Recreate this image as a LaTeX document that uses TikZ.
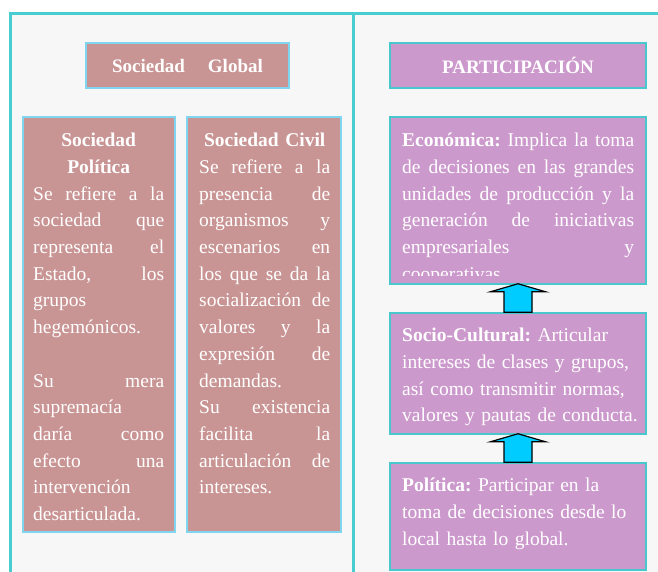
\documentclass[tikz,border=0pt]{standalone}
\usepackage{fontspec}
\setmainfont{Liberation Serif}
\usetikzlibrary{calc, positioning}
\definecolor{marco}{RGB}{72,206,208}
\definecolor{fondo}{RGB}{247,247,247}
\definecolor{rosa}{RGB}{201,149,148}
\definecolor{lila}{RGB}{204,153,204}
\definecolor{bordeRosa}{RGB}{128,214,240}
\definecolor{bordeLila}{RGB}{72,200,204}
\definecolor{cielo}{RGB}{0,204,255}
\tikzset{
    rosabox/.style={draw=bordeRosa, fill=rosa, line width=1.5pt},
    lilabox/.style={draw=bordeLila, fill=lila, line width=1.5pt},
    head/.style={text=white, font=\fontsize{19}{23}\selectfont\bfseries},
    txt/.style={text=white, inner sep=0, anchor=base west,
        font=\fontsize{19.5}{26.7}\selectfont\frenchspacing},
    flecha/.style={draw=black, fill=cielo, line width=1.2pt, line join=miter}
}
% justified, centred and natural lines
\newcommand{\jl}[1]{\leavevmode\hbox to \hsize{\spaceskip=0.25em plus 1fil\relax #1}\par}
\newcommand{\cl}[1]{\leavevmode\hbox to \hsize{\hfil\bfseries #1\hfil}\par}
\newcommand{\nl}[1]{\leavevmode\hbox to \hsize{#1\hfil}\par}
\newcommand{\drawB}[6]{
    \node[#1, minimum width=#5, minimum height=#6] (#2) at (#3,#4) {};
}
\newcommand{\drawF}[2]{
    \draw[flecha] ($(#1.north)+(-14,0)$) -- ($(#2.south)+(-14,7)$)
        -- ($(#2.south)+(-27.5,7)$) -- ($(#2.south)+(0,-1)$)
        -- ($(#2.south)+(27.5,7)$) -- ($(#2.south)+(14,7)$)
        -- ($(#1.north)+(14,0)$) -- cycle;
}

\begin{document}
\begin{tikzpicture}[x=1pt, y=-1pt]
    \useasboundingbox (0,0) rectangle (658,571);
    \clip (0,0) rectangle (658,571);
    % Panels
    \fill[fondo] (10.5,13.5) rectangle (670,600);
    \draw[marco, line width=2.5pt] (10.5,600) |- (670,13.5);
    \draw[marco, line width=3pt] (353.5,13.5) -- (353.5,600);
    % Headers
    \node[rosabox, head, minimum width=203, minimum height=45] (global) at (187.5,65.5) {Sociedad\hspace{23pt}Global};
    \node[lilabox, head, minimum width=256, minimum height=45] (part) at (518,65.5) {PARTICIPACIÓN};
    % Boxes
    \drawB{rosabox}{politica}{99}{324.5}{152}{415}
    \drawB{rosabox}{civil}{264}{324.5}{154}{415}
    \drawB{lilabox}{eco}{518}{200.5}{256}{167}
    \drawB{lilabox}{soc}{518}{373.5}{256}{121}
    \drawB{lilabox}{pol}{518}{516.5}{256}{107}
    % Texts
    \node[txt, text width=131pt] (tpolitica) at (33,146.7) {%
        \cl{Sociedad}\cl{Política}%
        \jl{Se refiere a la}\jl{sociedad que}\jl{representa el}\jl{Estado, los}%
        \nl{grupos}\nl{hegemónicos.}\nl{~}%
        \jl{Su mera}\nl{supremacía}\jl{daría como}\jl{efecto una}%
        \nl{intervención}\nl{desarticulada.}};
    \node[txt, text width=131pt] (tcivil) at (199,146.7) {%
        \cl{Sociedad Civil}%
        \jl{Se refiere a la}\jl{presencia de}\jl{organismos y}\jl{escenarios en}%
        \jl{los que se da la}\jl{socialización de}\jl{valores y la}\jl{expresión de}%
        \nl{demandas.}%
        \jl{Su existencia}\jl{facilita la}\jl{articulación de}\nl{intereses.}};
    \begin{scope}
        \clip (eco.north west) rectangle ($(eco.south east)+(0,-9)$);
        \node[txt, text width=232pt] (teco) at (402,146.7) {%
            \jl{\textbf{Económica:} Implica la toma}\jl{de decisiones en las grandes}%
            \jl{unidades de producción y la}\jl{generación de iniciativas}%
            \jl{empresariales y}\nl{cooperativas.}};
    \end{scope}
    \node[txt, text width=232pt] (tsoc) at (402,341.7) {%
        \nl{\textbf{Socio-Cultural:} Articular}\nl{intereses de clases y grupos,}%
        \nl{así como transmitir normas,}\nl{valores y pautas de conducta.}};
    \node[txt, text width=232pt] (tpol) at (402,491.7) {%
        \nl{\textbf{Política:} Participar en la}\nl{toma de decisiones desde lo}%
        \nl{local hasta lo global.}};
    % Arrows
    \drawF{soc}{eco}
    \drawF{pol}{soc}
\end{tikzpicture}
\end{document}
